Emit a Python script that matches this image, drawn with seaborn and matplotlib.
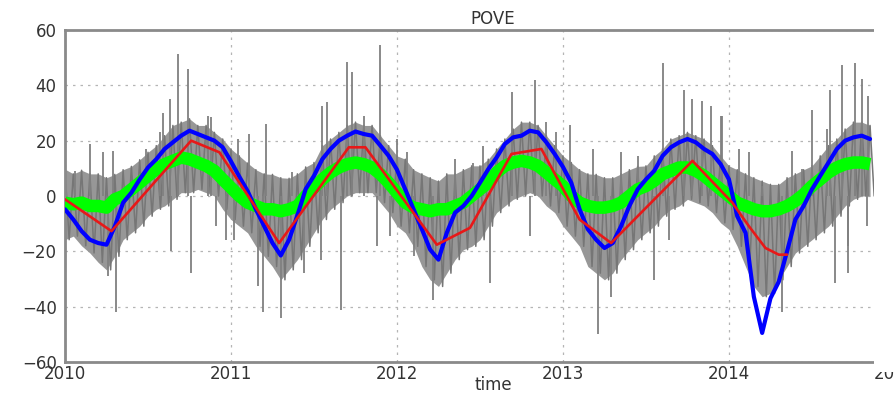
import numpy as np
import matplotlib
matplotlib.use("Agg")
import matplotlib.pyplot as plt
from matplotlib.patches import Rectangle
import seaborn as sns

# ---------------- data ----------------
time = np.round(np.arange(2010.0, 2014.851, 0.05), 2)

blue = [-4.8, -8.5, -12.7, -15.8, -17, -17.6, -11, -2.4, 1.2, 6, 10.3, 13.3, 17, 19.4, 21.8, 23.6, 22.4, 21.2, 20, 17.6,
        12.5, 7, 1.8, -4.8, -10.9, -17, -21.5, -15.8, -7, 2.5, 7.3, 13.3, 17, 20, 21.8, 23.3, 22.4, 21.8, 18.2, 14.5,
        9.5, 2.4, -4.8, -12, -19.4, -23, -13.3, -6, -3.6, 0, 4.8, 9.7, 13.9, 18.8, 21.2, 21.8, 23.6, 23, 19.4, 15.2,
        10.5, 4.8, -4.8, -12, -15.8, -18.8, -17, -10.9, -3.6, 2.4, 6, 9.1, 14.5, 17.6, 19.4, 20.6, 19.4, 17, 15.2, 11.5,
        6, -7.3, -13.3, -36.4, -49.5, -37, -31, -20, -8.5, -3.6, 2.4, 7.3, 12.1, 17, 20, 21.2, 21.8, 20.6]

green = [-2.4, -3, -2.4, -3.6, -3.6, -4.2, -1.2, 0, 2.4, 4.8, 7.3, 9.7, 11.5, 12.7, 13.9, 13.3, 12.1, 10.9, 9.1, 6,
         3, 0, -2.4, -3.6, -4.8, -4.8, -5.5, -4.8, -3.6, 0, 3, 6, 8.5, 10.3, 11.5, 12.1, 11.5, 10.3, 7.9, 4.8,
         1.2, -2.4, -4.2, -4.8, -5.5, -4.8, -4.8, -3.6, -2.4, 0, 2.4, 4.8, 8.5, 10.9, 12.1, 12.7, 12.1, 10.9, 8.5, 6,
         3.6, 0, -2.4, -3.6, -4.2, -4.2, -3.6, -2.4, 0, 2.4, 3.6, 5.5, 7.9, 9.1, 10.3, 10.3, 9.1, 7.3, 4.8, 2.4,
         0, -2.4, -3.6, -4.8, -5.5, -5.5, -4.8, -3.6, -1.8, 0.6, 3.6, 6, 8.5, 10.3, 11.5, 12.1, 12.1, 11.5]

gray_hi = [9.7, 8, 9.3, 8, 8, 6.6, 7.8, 9.5, 10.7, 13.1, 15.8, 18.2, 21.8, 25.5, 26.7, 27.9, 25.5, 25.5, 23, 20.6,
           17, 14.5, 11.9, 9.5, 8, 7.8, 6.6, 6.4, 8, 10.5, 12.1, 18.2, 20.6, 23, 25.5, 26.7, 25.5, 25.5, 21.8, 18.2,
           14.5, 13.3, 9.5, 8, 6.6, 5.4, 8, 8, 9.5, 10.9, 10.9, 13.3, 17, 20.6, 24.2, 26.7, 26.7, 25.5, 21.8, 18.2,
           14.5, 12.1, 9.5, 8, 7.8, 6.6, 6.6, 8, 9.5, 10.7, 10.9, 14.5, 17, 20.6, 21.8, 23, 21.8, 20.6, 18.2, 14.5,
           10.9, 9.5, 8, 6.6, 5.4, 4.2, 4.2, 6.6, 8, 9.5, 10.9, 14.5, 18.2, 20.6, 24.2, 26.7, 26.7, 25.5]

gray_lo = [-15.8, -14.5, -18, -20.6, -24, -26.7, -21.8, -15.8, -13.3, -10.9, -7.3, -4.8, -3.6, -1.2, 1.2, 1.2, 2.4, 1.2, 0, -4.8,
           -8.5, -10.9, -13.3, -18.2, -21.8, -25.5, -30.3, -26.7, -23, -18.2, -13.3, -8.5, -4.8, -2.4, 0, 1.2, 1.2, 1.2, -2.4, -6,
           -10.9, -13.3, -18.2, -25.5, -30.3, -32.7, -27.9, -23, -19.4, -18.2, -15.8, -10.9, -6, -3.6, -1.2, 0, 1.2, 0, -3.6, -6,
           -10.9, -14.5, -18.2, -25.5, -27.9, -30.3, -27.9, -23, -19.4, -15.8, -13.3, -10.9, -7.3, -4.8, -3.6, -1.2, -2.4, -3.6, -6, -9.7,
           -12.1, -18.2, -25.5, -32.7, -36.4, -35.2, -30.3, -25.5, -20.6, -18.2, -15.8, -13.3, -10.9, -7.3, -3.6, -1.2, 0, 0]

spike_t = [2010.68, 2010.74, 2010.63, 2010.59, 2010.15, 2010.29, 2010.31, 2010.26, 2010.76, 2010.64, 2010.86, 2010.97,
           2011.21, 2011.11, 2011.90, 2011.70, 2011.73, 2011.55, 2011.58, 2011.66, 2011.19, 2011.30, 2011.16, 2011.88,
           2011.54, 2012.00, 2012.83, 2012.69, 2012.56, 2012.80, 2012.22, 2012.35, 2012.52, 2013.60, 2013.73, 2013.78,
           2013.84, 2013.04, 2013.21, 2013.55, 2013.96, 2013.29, 2014.68, 2014.76, 2014.61, 2014.50, 2014.38, 2013.95,
           2014.32, 2014.64, 2014.72, 2014.84, 2014.80,
           2010.06, 2010.23, 2010.49, 2010.57, 2010.88, 2010.91, 2011.02, 2011.04, 2011.37, 2011.44, 2011.80, 2011.96,
           2012.06, 2012.10, 2012.46, 2012.90, 2012.96, 2013.18, 2013.35, 2013.45, 2013.64, 2013.89, 2014.06, 2014.12,
           2014.20, 2014.44, 2014.59, 2014.72, 2014.83]
spike_v = [51.5, 46, 35, 30, 18.8, 16.4, -41.8, -29, -28, -20, 29, -15.8,
           26, 22.4, 54.5, 48.5, 44.8, 32.7, 34, -41.2, -41.8, -44.2, -32.7, -18.2,
           -23, 20.6, 41.8, 37.6, -31.5, -14.5, -37.6, 13.3, 18.2, 47.9, 38.2, 35.2,
           34.5, 25.5, -49.7, -30.3, 29, -36.4, 47.3, 47.9, 38.2, 31, 16.4, 29,
           -41.8, -31.5, -18.2, 36, 42.4,
           9, 15.8, 17, 23, 28.5, -11, -16, 20.6, 8.5, -28, 29, -14.5,
           15.8, -21.8, 12, 26.7, 23, 17, 15.8, 14.5, -15.8, 32.7, 17, 15.8,
           3.6, 9.7, 24.2, -28, -11]

red_t = [2010.00, 2010.28, 2010.76, 2010.93, 2011.29, 2011.71, 2011.81, 2012.24, 2012.44, 2012.69,
         2012.87, 2013.10, 2013.29, 2013.78, 2014.02, 2014.12, 2014.22, 2014.30, 2014.35]
red_v = [-1.2, -12.7, 20, 15.8, -17, 17.6, 17.6, -17.6, -11.5, 15.2,
         17, -8.5, -17, 12.7, -2.4, -10.9, -18.8, -21.2, -21.2]

year_ticks = [2010, 2011, 2012, 2013, 2014, 2015]
y_ticks = [-60, -40, -20, 0, 20, 40, 60]
title = "POVE"
xlabel = "time"

# ---------------- figure ----------------
sns.set_theme(style="white")
plt.rcParams['font.family'] = ['DejaVu Sans']

W, H = 896, 396
fig = plt.figure(figsize=(W / 100, H / 100), dpi=100)
left_px, right_px, top_px, bot_px = 65, 921, 30, 362
ax = fig.add_axes([left_px / W, 1 - bot_px / H, (right_px - left_px) / W, (bot_px - top_px) / H])

# gray raw series: envelope fill + a dense zig-zag between its typed highs and lows + spikes
ax.fill_between(time, gray_lo, gray_hi, color="#979797", linewidth=0, zorder=2)
zz_t = np.column_stack([time, time + 0.025]).ravel()
zz_v = np.column_stack([gray_hi, gray_lo]).ravel()
ax.plot(zz_t, zz_v, color="#767676", linewidth=1.1, zorder=2)
ax.vlines(spike_t, 0, spike_v, color="#808080", linewidth=1.3, zorder=2)

sns.lineplot(x=time, y=green, ax=ax, color="#00ff00", linewidth=9, zorder=3,
             solid_capstyle="butt", estimator=None, sort=False)
sns.lineplot(x=time, y=blue, ax=ax, color="#0000ff", linewidth=3.0, zorder=4,
             estimator=None, sort=False)
sns.lineplot(x=red_t, y=red_v, ax=ax, color="#e81818", linewidth=1.9, zorder=5,
             estimator=None, sort=False)

ax.set_xlim(2010, 2015.157)
ax.set_ylim(-60, 60)
ax.set_xticks(year_ticks)
ax.set_xticklabels([str(y) for y in year_ticks])
ax.set_yticks(y_ticks)

ax.grid(True, color="#b5b5b5", linestyle=(0, (2, 4)), linewidth=0.9, zorder=1)
ax.set_axisbelow(True)

for side in ["left", "bottom", "top"]:
    ax.spines[side].set_visible(True)
    ax.spines[side].set_color("#8a8a8a")
    ax.spines[side].set_linewidth(2)
ax.spines["right"].set_visible(False)

ax.tick_params(axis="both", which="both", direction="in", length=3, color="#666666",
               labelsize=12, labelcolor="#333333", pad=2)
ax.tick_params(axis="y", pad=6)

ax.set_title(title, fontsize=12, color="#333333", pad=4)
ax.set_xlabel(xlabel, fontsize=12, color="#333333", labelpad=-5)
ax.set_ylabel("")

# the reference image is cropped on the right edge
fig.patches.append(Rectangle((874 / W, 0.06), 1 - 874 / W, 0.94, transform=fig.transFigure,
                             facecolor="white", edgecolor="none", zorder=10))

fig.savefig("out.png", dpi=100)
